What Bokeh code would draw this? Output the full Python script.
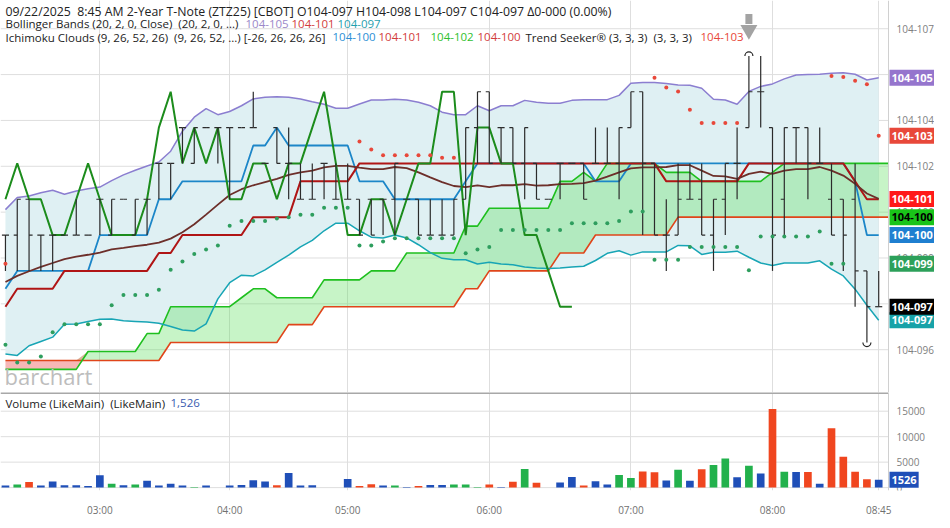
import numpy as np
from bokeh.plotting import figure
from bokeh.models import FixedTicker, Label, Span, Range1d
from bokeh.layouts import column
from bokeh.embed import file_html
from bokeh.resources import INLINE
from bokeh.core.properties import value

# ---------------- data (price in 1/8-of-a-32nd steps above 104: price = 104 + L/256) -------------
bar_index = list(range(75))
opens = [80, 80, 81, 80, 80, 80, 80, 80, 81, 80,
         81, 80, 81, 82, 82, 83, 82, 83, 83, 83,
         83, 83, 82, 83, 82, 81, 81, 82, 81, 81,
         81, 81, 81, 81, 81, 81, 80, 80, 80, 81,
         83, 84, 83, 83, 82, 82, 81, 82, 82, 82,
         82, 82, 82, 83, 84, 82, 80, 80, 81, 81,
         80, 81, 82, 83, 84, 83, 81, 83, 83, 82,
         81, 81, 81, 79, 78]
highs = [80, 81, 81, 80, 80, 80, 81, 80, 81, 81,
         81, 81, 81, 82, 82, 83, 83, 83, 83, 83,
         83, 84, 82, 83, 83, 82, 82, 82, 82, 82,
         81, 81, 81, 82, 81, 81, 81, 81, 81, 83,
         84, 84, 83, 83, 83, 82, 81, 82, 82, 82,
         83, 83, 83, 84, 84, 82, 81, 82, 82, 82,
         81, 82, 83, 85, 85, 83, 83, 83, 83, 83,
         82, 81, 82, 79, 79]
lows = [79, 79, 79, 79, 79, 80, 80, 80, 80, 80,
        81, 80, 80, 81, 81, 82, 82, 83, 82, 81,
        83, 83, 82, 82, 81, 81, 81, 81, 81, 81,
        80, 80, 80, 80, 81, 80, 80, 80, 80, 81,
        82, 82, 82, 82, 81, 81, 81, 81, 82, 81,
        82, 82, 81, 83, 80, 80, 79, 80, 81, 80,
        79, 80, 81, 83, 83, 79, 80, 82, 81, 82,
        80, 79, 78, 77, 78]
closes = [80, 81, 80, 80, 80, 80, 80, 80, 81, 81,
          81, 81, 81, 82, 82, 83, 83, 83, 83, 83,
          83, 83, 82, 82, 82, 81, 81, 82, 81, 81,
          80, 80, 81, 82, 81, 80, 80, 80, 81, 83,
          84, 82, 83, 82, 83, 81, 81, 82, 82, 81,
          82, 82, 83, 84, 82, 80, 80, 81, 81, 80,
          81, 82, 82, 84, 84, 80, 83, 83, 82, 82,
          80, 80, 79, 78, 78]
volume = [400, 600, 1100, 400, 1200, 450, 450, 300, 2400, 750,
          450, 600, 1330, 400, 750, 400, 100, 400, 0, 400,
          500, 1460, 1200, 450, 2850, 400, 450, 0, 0, 1710,
          300, 650, 400, 400, 100, 300, 500, 500, 600, 600,
          100, 600, 100, 1150, 3670, 950, 0, 1000, 2090, 400,
          1270, 630, 2470, 1900, 3160, 3030, 1390, 3480, 1330, 3610,
          4430, 5700, 2030, 4300, 2790, 15450, 3100, 3040, 3040, 760,
          11650, 6080, 3100, 1650, 1526]
vol_dir = list("bgrbbbbbbg" "bgbbbbgbbb" "bbbrbbbbbb" "rrbgbrbbgg"
               "grbrgrbbbr" "bbggrrbgbr" "ggbgbrgbrb" "rrrrb")
bb_upper = [80.71, 81.05, 81.09, 81.18, 81.25, 81.14, 81.23, 81.29, 81.34, 81.52,
            81.68, 81.81, 81.93, 82.04, 82.34, 82.9, 83.29, 83.53, 83.36, 83.45,
            83.61, 83.8, 83.85, 83.86, 83.85, 83.8, 83.72, 83.65, 83.54, 83.54,
            83.66, 83.77, 83.77, 83.79, 83.77, 83.71, 83.61, 83.43, 83.36, 83.36,
            83.61, 83.47, 83.61, 83.61, 83.76, 83.71, 83.68, 83.68, 83.76, 83.78,
            83.78, 83.78, 83.9, 84.24, 84.26, 84.26, 84.23, 84.19, 84.18, 84.1,
            83.79, 83.77, 83.65, 84.01, 84.15, 84.22, 84.36, 84.47, 84.48, 84.49,
            84.52, 84.53, 84.49, 84.33, 84.39]
bb_middle = [78.69, 78.86, 78.99, 79.11, 79.22, 79.33, 79.4, 79.45, 79.51, 79.6,
             79.64, 79.69, 79.73, 79.79, 79.9, 80.08, 80.3, 80.57, 80.85, 81.12,
             81.28, 81.39, 81.48, 81.57, 81.68, 81.75, 81.8, 81.89, 81.93, 81.93,
             81.88, 81.84, 81.84, 81.9, 81.87, 81.75, 81.61, 81.48, 81.37, 81.34,
             81.39, 81.34, 81.39, 81.39, 81.42, 81.38, 81.39, 81.42, 81.43, 81.45,
             81.52, 81.63, 81.75, 81.86, 81.89, 81.89, 81.9, 81.95, 81.95, 81.8,
             81.65, 81.64, 81.57, 81.71, 81.77, 81.71, 81.8, 81.84, 81.84, 81.9,
             81.8, 81.66, 81.43, 81.16, 81.01]
bb_lower = [76.68, 76.64, 76.91, 77.03, 77.15, 77.51, 77.52, 77.59, 77.65, 77.66,
            77.61, 77.59, 77.57, 77.54, 77.45, 77.35, 77.32, 77.52, 78.22, 78.67,
            78.88, 78.86, 79.03, 79.24, 79.44, 79.67, 79.85, 80.12, 80.33, 80.33,
            80.12, 79.94, 79.92, 80.0, 79.92, 79.73, 79.51, 79.35, 79.31, 79.31,
            79.19, 79.24, 79.19, 79.17, 79.11, 79.08, 79.07, 79.08, 79.11, 79.13,
            79.29, 79.49, 79.56, 79.44, 79.53, 79.53, 79.53, 79.71, 79.7, 79.46,
            79.52, 79.52, 79.55, 79.38, 79.22, 79.15, 79.22, 79.22, 79.22, 79.28,
            79.05, 78.86, 78.49, 78.04, 77.62]
conversion = [78.5, 79, 79, 79, 79, 79, 79, 79, 80, 80,
              80, 80, 80, 81, 81, 81.5, 81.5, 81.5, 81.5, 81.5,
              81.5, 82.5, 82.5, 83, 82.5, 82.5, 82.5, 82.5, 82.5, 82.5,
              81.5, 81.5, 81.5, 81, 81, 81, 81, 81, 81, 81.5,
              82, 82, 82, 82, 82, 82, 82, 82, 82, 82,
              81.5, 81.5, 81.5, 82, 82, 82, 82, 82, 82, 82,
              82, 82, 82, 82, 82, 82, 82, 82, 82, 82,
              82, 82, 81.5, 80, 80]
base_line = [78, 78.5, 78.5, 78.5, 78.5, 79, 79, 79, 79, 79,
             79, 79, 79, 79.5, 79.5, 80, 80, 80, 80, 80,
             80, 80.5, 80.5, 80.5, 80.5, 81.5, 81.5, 81.5, 81.5, 81.5,
             82, 82, 82, 82, 82, 82, 82, 82, 82, 82,
             82, 82, 82, 82, 82, 82, 82, 82, 82, 82,
             82, 82, 82, 82, 82, 82, 81.5, 81.5, 81.5, 81.5,
             81.5, 81.5, 81.5, 82, 82, 82, 82, 82, 82, 82,
             82, 82, 81.5, 81, 81]
span_a = [76.25, 76.25, 76.25, 76.25, 76.25, 76.25, 76.25, 76.75, 76.75, 76.75,
          76.75, 76.75, 77.25, 77.25, 78, 78, 78, 78, 78, 78,
          78.25, 78.5, 78.5, 78.25, 78.25, 78.25, 78.25, 78.75, 78.75, 78.75,
          78.75, 79, 79, 79, 79.5, 79.5, 79.5, 79.5, 79.5, 80.25,
          80.25, 80.75, 80.75, 80.75, 80.75, 80.75, 80.75, 81.5, 81.5, 81.75,
          81.5, 82, 82, 82, 82, 82, 81.75, 81.75, 81.75, 81.5,
          81.5, 81.5, 81.5, 81.5, 81.5, 81.75, 82, 82, 82, 82,
          82, 82, 82, 82, 82, 82]
span_b = [76.5, 76.5, 76.5, 76.5, 76.5, 76.5, 76.5, 76.5, 76.5, 76.5,
          76.5, 76.5, 76.5, 76.5, 77, 77, 77, 77, 77, 77,
          77, 77, 77, 77, 77.5, 77.5, 77.5, 78, 78, 78,
          78, 78, 78, 78, 78, 78, 78, 78, 78, 78.5,
          78.5, 79, 79, 79, 79, 79, 79, 79.5, 79.5, 79.5,
          80, 80, 80, 80, 80, 80, 80, 80.5, 80.5, 80.5,
          80.5, 80.5, 80.5, 80.5, 80.5, 80.5, 80.5, 80.5, 80.5, 80.5,
          80.5, 80.5, 80.5, 80.5, 80.5, 80.5]
ts_green = [76.94, 76.44, 76.44, 76.61, 77.29, 77.51, 77.51, 77.51, 77.51, 78.04,
            78.33, 78.33, 78.33, 78.47, 79.03, 79.26, 79.47, 79.6, 79.71, 80.26,
            80.39, 80.39, 80.39, 80.46, 80.5, 80.57, 80.57, 80.76, 80.76, 80.76,
            79.71, 79.71, 79.82, 79.91, 79.91, 79.91, 79.91, 79.91, 79.91, 79.49,
            79.6, 79.67, 80.14, 80.14, 80.14, 80.14, 80.14, 80.14, 80.33, 80.33,
            80.33, 80.33, 80.39, 80.66, 80.66, 79.31, 79.31, 79.31, 79.67, 79.67,
            79.67, 79.67, 79.67, 79.02, 79.96, 79.96, 79.96, 79.96, 79.96, 80.1,
            79.2, 79.2, None, None, None]
ts_red = [79.2, None, None, None, None, None, None, None, None, None,
          None, None, None, None, None, None, None, None, None, None,
          None, None, None, None, None, None, None, None, None, None,
          82.61, 82.39, 82.23, 82.23, 82.23, 82.23, 82.23, 82.16, 82.16, None,
          None, None, None, None, None, None, None, None, None, None,
          None, None, None, None, None, 84.39, 84.12, 84.01, 83.5, 83.13,
          83.13, 83.13, 83.13, None, None, None, None, None, None, None,
          84.44, 84.41, 84.31, 84.21, 82.77]
time_ticks = [8, 19, 29, 41, 53, 65, 74]
time_labels = ["03:00", "04:00", "05:00", "06:00", "07:00", "08:00", "08:45"]
vol_ticks = [0, 5000, 10000, 15000]
lag_shift = 26

# ---------------- helpers -------------
def arr(vals):
    return np.array([np.nan if v is None else v for v in vals], dtype=float)

def fmt(level):
    return "104-%03d" % int(np.floor(level / 8 * 10 + 1e-6))

FONT = "Open Sans"
W = 934                      # full frame width (price axis drawn inside the frame)
PLOT_W = 888                 # width of the charting area left of the price axis
MAIN_H = 392
VOL_H = 98
Y0, Y1 = 75.605, 86.548
X0, AX = -0.42, 74.83        # left edge and price-axis position in bar units
X1 = X0 + W * (AX - X0) / PLOT_W

idx = np.array(bar_index, dtype=float)
o, h, l, c = arr(opens), arr(highs), arr(lows), arr(closes)
x_rng = Range1d(X0, X1)
GRID = "#dedede"

def base_fig(height, y0, y1, bottom):
    f = figure(frame_width=W, frame_height=height, x_range=x_rng, y_range=Range1d(y0, y1),
               output_backend="svg", toolbar_location=None, y_axis_location=None,
               x_axis_location="below" if bottom else None,
               min_border_left=0, min_border_right=0, min_border_top=0,
               min_border_bottom=22 if bottom else 0,
               background_fill_color="white", border_fill_color="white")
    f.outline_line_color = None
    f.ygrid.visible = False
    f.xgrid.ticker = FixedTicker(ticks=time_ticks)
    f.xgrid.grid_line_color = GRID
    f.add_layout(Span(location=AX, dimension="height", line_color="#d0d0d0", line_width=1))
    return f

def y_axis(f, ticks, labels):
    n = len(ticks)
    f.segment(x0=[X0] * n, y0=ticks, x1=[AX] * n, y1=ticks, line_color=GRID, line_width=1)
    f.text(x=[AX] * n, y=ticks, text=labels, x_offset=8, text_font=value(FONT),
           text_font_size="10px", text_color="#808080", text_baseline="middle",
           text_align="left")

def header(f, x, y, text, color="#222222", size="11.5px"):
    f.add_layout(Label(x=x, y=y, x_units="screen", y_units="screen", text=text,
                       text_font=FONT, text_font_size=size, text_color=color,
                       text_baseline="middle", text_align="left"))

def vbox(f, yval, text, bg, fg="white"):
    f.add_layout(Label(x=AX, y=yval, x_offset=1, text=text,
                       text_font=FONT, text_font_size="11px", text_font_style="bold",
                       text_color=fg, background_fill_color=bg, padding=(2, 4),
                       text_baseline="middle", text_align="left"))

def last_valid(vals):
    a = arr(vals)
    return float(a[~np.isnan(a)][-1])

# ---------------- main price pane -------------
p = base_fig(MAIN_H, Y0, Y1, False)
price_ticks = [256 * (0.300 + 0.005 * k) for k in range(8)]
y_axis(p, price_ticks, [fmt(t) for t in price_ticks])

# Bollinger fill
p.varea(x=idx, y1=arr(bb_lower), y2=arr(bb_upper), fill_color="#dff0f3")

# Ichimoku cloud (projected beyond the last bar up to the axis)
sa, sb = arr(span_a), arr(span_b)
sx = np.minimum(np.arange(len(sa), dtype=float), AX)
top = np.maximum(sa, sb)
p.varea(x=sx, y1=sb, y2=top, fill_color="#5ee05e", fill_alpha=0.35)
p.varea(x=sx, y1=sa, y2=top, fill_color="#f07070", fill_alpha=0.5)

p.line(sx, sb, line_color="#e0451a", line_width=1.6)
p.line(sx, sa, line_color="#1fbf1f", line_width=1.6)
p.line(idx, arr(bb_upper), line_color="#8b7ed0", line_width=1.5)
p.line(idx, arr(bb_lower), line_color="#18a5b5", line_width=1.5)
p.line(idx, arr(conversion), line_color="#1c86c8", line_width=1.8)
p.line(idx, arr(base_line), line_color="#b01515", line_width=2)
p.line(idx, arr(bb_middle), line_color="#6d2f2a", line_width=1.8)
p.line(idx[:-lag_shift], c[lag_shift:], line_color="#1c8c1c", line_width=2)

# OHLC bars
bar_col = "#2b2b2b"
p.segment(x0=idx, y0=l, x1=idx, y1=h, line_color=bar_col, line_width=1.2)
p.segment(x0=idx - 0.3, y0=o, x1=idx, y1=o, line_color=bar_col, line_width=1.2)
p.segment(x0=idx, y0=c, x1=idx + 0.3, y1=c, line_color=bar_col, line_width=1.2)

# Trend Seeker dots
p.scatter(idx, arr(ts_green), size=4, fill_color="#2e9e5e", line_color=None)
p.scatter(idx, arr(ts_red), size=4, fill_color="#e8483a", line_color=None)

# high / low markers and arrow
hi = int(np.argmax(h))
lo = int(np.argmin(l))
p.arc(x=[hi], y=[h[hi]], radius=4, radius_units="screen", start_angle=0, end_angle=np.pi,
      line_color="#222222", line_width=1.2)
p.arc(x=[lo], y=[l[lo]], radius=4, radius_units="screen", start_angle=np.pi,
      end_angle=2 * np.pi, line_color="#222222", line_width=1.2)
ppl = MAIN_H / (Y1 - Y0)
p.rect(x=[hi], y=[Y1 - 18.5 / ppl], width=7, height=10, width_units="screen",
       height_units="screen", fill_color="#a3a3a3", line_color=None)
p.scatter(x=[hi], y=[Y1 - 29.5 / ppl], marker="inverted_triangle", size=17,
          fill_color="#a3a3a3", line_color=None)

# watermark
p.add_layout(Label(x=4, y=2, x_units="screen", y_units="screen", text="barchart",
                   text_font=FONT, text_font_size="22px", text_color="#bdbdbd",
                   text_baseline="bottom"))

HY = [MAIN_H - 10.7, MAIN_H - 23.3, MAIN_H - 36.9]
SP = "\u00a0 "
header(p, 5, HY[0], "09/22/2025" + SP + "8:45 AM 2-Year T-Note (ZTZ25) [CBOT] O104-097 H104-098 "
                    "L104-097 C104-097 \u03940-000 (0.00%)", size="12.3px")
header(p, 5, HY[1], "Bollinger Bands (20, 2, 0, Close)" + SP + "(20, 2, 0, ...)")
header(p, 245, HY[1], "104-105", "#9b88c9")
header(p, 291, HY[1], "104-101", "#d23c3c")
header(p, 337, HY[1], "104-097", "#1fa0ae")
header(p, 5, HY[2], "Ichimoku Clouds (9, 26, 52, 26)" + SP + "(9, 26, 52, ...) [-26, 26, 26, 26]")
header(p, 332, HY[2], "104-100", "#2c8fd6")
header(p, 378, HY[2], "104-101", "#d23c3c")
header(p, 430, HY[2], "104-102", "#2fbf2f")
header(p, 477, HY[2], "104-100", "#d23c3c")
header(p, 525, HY[2], "Trend Seeker\u00ae (3, 3, 3)" + SP + "(3, 3, 3)")
header(p, 700, HY[2], "104-103", "#e8483a")

boxes = [
    (last_valid(bb_upper), "#9575cd", "white"),
    (last_valid(ts_red), "#e8483a", "white"),
    (last_valid(bb_middle), "#ff1a1a", "white"),
    (last_valid(span_b), "#19c419", "black"),
    (last_valid(conversion), "#1f7fd0", "white"),
    (last_valid(ts_green), "#2ca05a", "white"),
    (last_valid(bb_lower), "#17a2a8", "white"),
    (last_valid(closes), "#000000", "white"),
]
for yv, bg, fg in boxes:
    vbox(p, yv, fmt(yv), bg, fg)

# ---------------- volume pane -------------
VY0, VY1 = -570, 18670
v = base_fig(VOL_H, VY0, VY1, True)
y_axis(v, vol_ticks, [str(t) for t in vol_ticks])
cmap = {"b": "#1f4fb8", "g": "#22b14c", "r": "#f0461f"}
v.vbar(x=idx, top=volume, width=0.65, fill_color=[cmap[d] for d in vol_dir], line_color=None)
v.xaxis.ticker = FixedTicker(ticks=time_ticks)
v.xaxis.major_label_overrides = dict(zip(time_ticks, time_labels))
v.xaxis.major_tick_line_color = None
v.xaxis.minor_tick_line_color = None
v.xaxis.axis_line_color = None
v.xaxis.major_label_text_font = FONT
v.xaxis.major_label_text_font_size = "10px"
v.xaxis.major_label_text_color = "#707070"
v.xaxis.major_label_standoff = 6
v.segment(x0=[X0], y0=[VY1], x1=[AX], y1=[VY1], line_color="#a8a8a8", line_width=3)

header(v, 5, VOL_H - 10.7, "Volume (LikeMain)" + SP + "(LikeMain)")
header(v, 170, VOL_H - 10.7, "1,526", "#3a5cb0")
vbox(v, volume[-1], str(volume[-1]), "#1f4fb8")

layout = column(p, v, spacing=0)
open("out.html", "w").write(file_html(layout, INLINE))
